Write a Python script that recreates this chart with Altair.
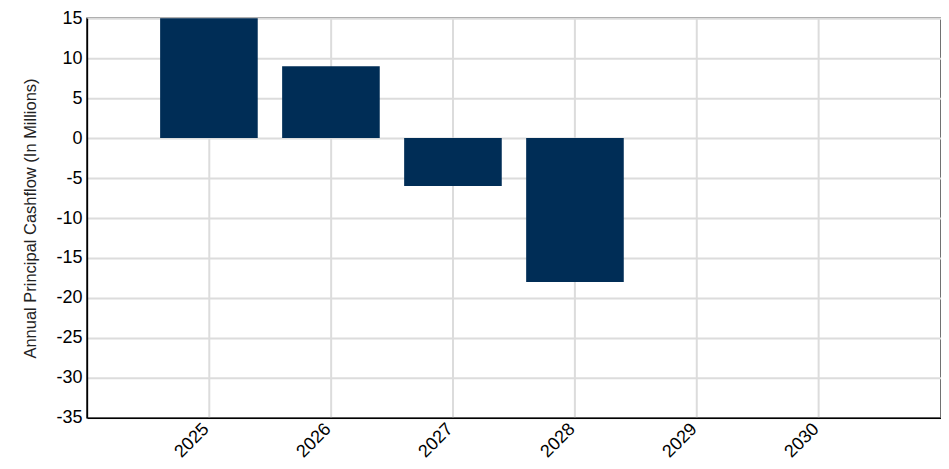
import altair as alt
import pandas as pd

years = ["2025", "2026", "2027", "2028", "2029", "2030"]
cashflow = [15, 9, -6, -18, 0, 0]
y_ticks = [-35, -30, -25, -20, -15, -10, -5, 0, 5, 10, 15]

df = pd.DataFrame({"year": years, "value": cashflow})

chart = alt.Chart(df).mark_bar(color="#002D56").encode(
    x=alt.X("year:N", sort=years,
            scale=alt.Scale(paddingInner=0.2, paddingOuter=0.6),
            axis=alt.Axis(title=None, labelAngle=-45, labelFontSize=18,
                          labelFont="Liberation Sans", labelColor="#000",
                          ticks=False, labelPadding=2, labelOffset=-9,
                          grid=True, gridColor="#DCDCDC", gridWidth=2,
                          domainColor="#000", domainWidth=1.5)),
    y=alt.Y("value:Q",
            scale=alt.Scale(domain=[-35, 15], nice=False),
            axis=alt.Axis(title="Annual Principal Cashflow (In Millions)",
                          titleFont="Liberation Sans", titleFontSize=16.5,
                          titleFontWeight="normal", titleColor="#222",
                          titlePadding=17,
                          values=y_ticks,
                          labelExpr="datum.value + ''",
                          labelFontSize=18, labelFont="Liberation Sans",
                          labelColor="#000", ticks=False, labelPadding=5,
                          grid=True, gridColor="#DCDCDC", gridWidth=2,
                          domainColor="#000", domainWidth=1.5)),
).properties(
    width=855, height=400,
    autosize=alt.AutoSizeParams(type="none"),
    padding={"left": 79, "top": 10, "right": 0, "bottom": 43},
).configure_view(stroke="#444", strokeWidth=1.5)

chart.save("out.html", embed_options={"renderer": "svg", "actions": False})
